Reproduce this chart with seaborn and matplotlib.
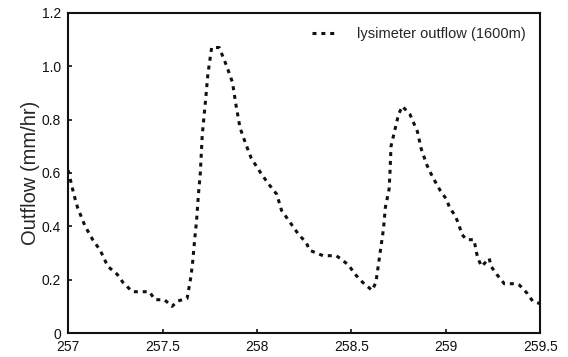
import numpy as np
import pandas as pd
import matplotlib
matplotlib.use("Agg")
import matplotlib.pyplot as plt
import seaborn as sns

day = [257.00, 257.03, 257.05, 257.09, 257.13, 257.17, 257.21, 257.26, 257.29, 257.34,
       257.38, 257.43, 257.46, 257.51, 257.55, 257.58, 257.63, 257.65, 257.66, 257.67,
       257.68, 257.69, 257.70, 257.71, 257.73, 257.74, 257.76, 257.80, 257.84, 257.87,
       257.89, 257.91, 257.94, 257.97, 258.02, 258.06, 258.105, 258.13, 258.18, 258.22,
       258.26, 258.28, 258.35, 258.42, 258.44, 258.485, 258.52, 258.56, 258.61, 258.63,
       258.65, 258.67, 258.68, 258.70, 258.705, 258.71, 258.73, 258.75, 258.77, 258.81,
       258.85, 258.87, 258.90, 258.93, 258.97, 259.005, 259.02, 259.05, 259.07, 259.085,
       259.11, 259.15, 259.16, 259.17, 259.19, 259.23, 259.24, 259.27, 259.31, 259.37,
       259.39, 259.43, 259.46, 259.50]
outflow = [0.61, 0.52, 0.47, 0.40, 0.35, 0.31, 0.25, 0.22, 0.19, 0.155,
           0.155, 0.155, 0.125, 0.125, 0.10, 0.12, 0.13, 0.21, 0.27, 0.35,
           0.42, 0.52, 0.60, 0.74, 0.89, 0.97, 1.07, 1.07, 1.00, 0.94,
           0.85, 0.77, 0.71, 0.655, 0.60, 0.56, 0.52, 0.46, 0.41, 0.37,
           0.34, 0.31, 0.29, 0.29, 0.28, 0.255, 0.22, 0.19, 0.16, 0.19,
           0.29, 0.39, 0.47, 0.54, 0.61, 0.70, 0.76, 0.82, 0.85, 0.82,
           0.755, 0.69, 0.63, 0.585, 0.535, 0.50, 0.47, 0.44, 0.405, 0.37,
           0.35, 0.35, 0.31, 0.28, 0.25, 0.28, 0.25, 0.22, 0.185, 0.185,
           0.18, 0.15, 0.12, 0.11]
series_label = "lysimeter outflow (1600m)"
xticks = [257, 257.5, 258, 258.5, 259, 259.5]
xticklabels = ["257", "257.5", "258", "258.5", "259", "259.5"]
yticks = [0, 0.2, 0.4, 0.6, 0.8, 1.0, 1.2]
yticklabels = ["0", "0.2", "0.4", "0.6", "0.8", "1.0", "1.2"]

df = pd.DataFrame({"day": day, "outflow": outflow, "series": series_label})

sns.set_style("ticks")
plt.rcParams["font.family"] = ["Liberation Sans", "DejaVu Sans"]

fig = plt.figure(figsize=(5.68, 3.57), dpi=100)
ax = fig.add_axes([0.12, 0.067, 0.831, 0.897])

sns.lineplot(data=df, x="day", y="outflow", hue="series", palette=["#111111"],
             sort=False, estimator=None, ax=ax, linewidth=2.2)
ax.lines[0].set_dashes([1.3, 1.6])

ax.set_xlim(257, 259.5)
ax.set_ylim(0, 1.2)
ax.set_xticks(xticks)
ax.set_xticklabels(xticklabels)
ax.set_yticks(yticks)
ax.set_yticklabels(yticklabels)
ax.tick_params(direction="in", length=3, width=1.2, labelsize=10, colors="#111111")
ax.tick_params(axis="x", pad=5)
ax.tick_params(axis="y", pad=5)
for s in ax.spines.values():
    s.set_visible(True)
    s.set_linewidth(1.5)
    s.set_color("#111111")
ax.set_xlabel("")
ax.set_ylabel("Outflow (mm/hr)", fontsize=14.5, labelpad=1)

leg = ax.legend(loc="upper right", frameon=False, fontsize=10.5, handlelength=1.6,
                handletextpad=1.5, borderaxespad=0.6)
for h in leg.get_lines():
    h.set_dashes([1.3, 1.6])
    h.set_linewidth(2.2)

fig.savefig("out.png", dpi=100)
